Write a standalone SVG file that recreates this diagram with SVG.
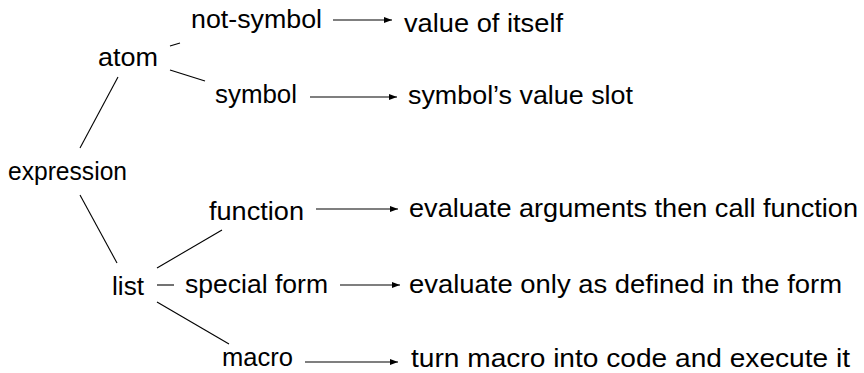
<svg xmlns="http://www.w3.org/2000/svg" width="864" height="373" viewBox="0 0 864 373">
<style>
text{font-family:"Liberation Sans","DejaVu Sans",sans-serif;font-size:26px;fill:#000}
.e{stroke:#000;stroke-width:1.1;fill:none}
</style>
<defs>
<marker id="ah" markerUnits="userSpaceOnUse" markerWidth="8" markerHeight="6" refX="8" refY="3" orient="auto">
<path d="M0,0 L8,3 L0,6 z" fill="#000"/>
</marker>
</defs>
<rect width="864" height="373" fill="#fff"/>
<g id="n-expression"><text x="8" y="180" textLength="119" lengthAdjust="spacingAndGlyphs">expression</text></g>
<g id="n-atom"><text x="98" y="66" textLength="60" lengthAdjust="spacingAndGlyphs">atom</text></g>
<g id="n-list"><text x="112" y="295" textLength="32" lengthAdjust="spacingAndGlyphs">list</text></g>
<g id="n-notsymbol"><text x="191" y="28" textLength="131" lengthAdjust="spacingAndGlyphs">not-symbol</text></g>
<g id="n-symbol"><text x="215" y="103" textLength="82" lengthAdjust="spacingAndGlyphs">symbol</text></g>
<g id="n-function"><text x="209" y="220" textLength="95" lengthAdjust="spacingAndGlyphs">function</text></g>
<g id="n-special"><text x="185" y="293" textLength="143" lengthAdjust="spacingAndGlyphs">special form</text></g>
<g id="n-macro"><text x="222" y="366" textLength="71" lengthAdjust="spacingAndGlyphs">macro</text></g>
<g id="n-value-itself"><text x="404" y="31.5" textLength="159" lengthAdjust="spacingAndGlyphs">value of itself</text></g>
<g id="n-value-slot"><text x="408" y="104" textLength="225" lengthAdjust="spacingAndGlyphs">symbol’s value slot</text></g>
<g id="n-eval-args"><text x="409" y="217" textLength="449" lengthAdjust="spacingAndGlyphs">evaluate arguments then call function</text></g>
<g id="n-eval-only"><text x="409" y="293" textLength="433" lengthAdjust="spacingAndGlyphs">evaluate only as defined in the form</text></g>
<g id="n-turn-macro"><text x="411" y="367" textLength="439" lengthAdjust="spacingAndGlyphs">turn macro into code and execute it</text></g>
<g id="connectors">
<line class="e" x1="80" y1="148" x2="118" y2="77"/>
<line class="e" x1="80" y1="195" x2="117" y2="263"/>
<line class="e" x1="170" y1="46" x2="180" y2="43"/>
<line class="e" x1="170" y1="70" x2="205" y2="81"/>
<line class="e" x1="157" y1="268" x2="222" y2="230"/>
<line class="e" x1="157" y1="285" x2="174" y2="285"/>
<line class="e" x1="157" y1="302" x2="229" y2="344"/>
<line class="e" x1="333" y1="20" x2="392" y2="20" marker-end="url(#ah)"/>
<line class="e" x1="310" y1="97" x2="397" y2="97" marker-end="url(#ah)"/>
<line class="e" x1="316" y1="209" x2="398" y2="209" marker-end="url(#ah)"/>
<line class="e" x1="340" y1="285" x2="400" y2="285" marker-end="url(#ah)"/>
<line class="e" x1="305" y1="362" x2="398" y2="362" marker-end="url(#ah)"/>
</g>
</svg>
